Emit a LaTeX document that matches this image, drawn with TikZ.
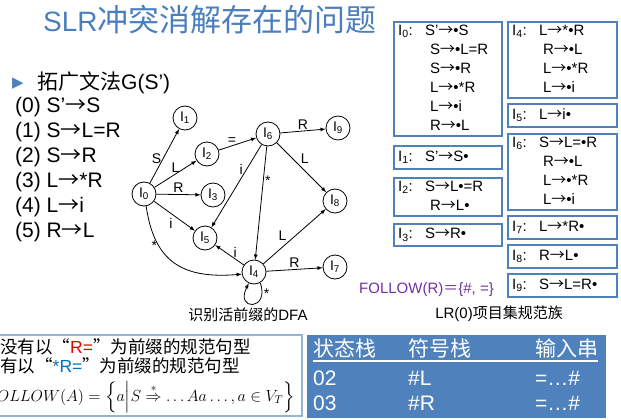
\RequirePackage{fix-cm}
\documentclass[tikz,border=0pt]{standalone}
\usepackage{fontspec}
\usepackage{amsmath}
\setmainfont{Liberation Sans}
\newfontfamily\cjk{Noto Sans CJK SC}
\newfontfamily\symb{DejaVu Sans}
\definecolor{titleblue}{RGB}{74,126,190}
\definecolor{boxblue}{RGB}{79,129,189}
\definecolor{followpurple}{RGB}{112,48,160}
\definecolor{framegray}{RGB}{149,179,215}
\definecolor{redR}{RGB}{230,0,0}
\definecolor{blueR}{RGB}{0,112,192}
\newcommand\zh[1]{{\cjk #1}}
\newcommand\arr{{\cjk →}}
\newcommand\St[1]{I\textsubscript{#1}}
\tikzset{
	dfastate/.style={circle, draw, line width=0.8pt, minimum size=24pt, inner sep=0pt, font=\fontsize{14}{14}\selectfont},
	trans/.style={line width=0.8pt, -latex},
	lab/.style={font=\fontsize{14}{14}\selectfont, inner sep=1.5pt},
	setbox/.style={draw=boxblue, line width=2.2pt, anchor=north west, inner xsep=4pt, inner ysep=0pt, align=left, font=\fontsize{15}{19}\selectfont},
	cell/.style={anchor=base west, text=white, inner sep=0pt, font=\fontsize{21}{25}\selectfont}
}

\begin{document}
\begin{tikzpicture}[x=1pt,y=-1pt]
	\useasboundingbox (0,0) rectangle (621,420);
	
	\node[anchor=base west, inner sep=0pt, text=titleblue] (title) at (43,32) {\fontsize{28}{30}\selectfont SLR\zh{\fontsize{31}{32}\selectfont 冲突消解存在的问题}};
	
	\node[anchor=base west, inner sep=0pt, text=boxblue] (tri) at (12,88) {\symb\fontsize{15}{15}\selectfont ▶};
	\node[anchor=base west, inner sep=0pt] (gram) at (37,89) {\fontsize{21}{25}\selectfont\zh{拓广文法}G(S’)};
	\foreach \k/\r in {0/S’\arr S, 1/S\arr L=R, 2/S\arr R, 3/L\arr *R, 4/L\arr i, 5/R\arr L}
		\node[anchor=base west, inner sep=0pt, font=\fontsize{21}{25}\selectfont] (p\k) at (15,{112+25*\k}) {(\k) \r};
	
	\node[dfastate] (i0) at (144,194) {\St{0}};
	\node[dfastate] (i1) at (185,118) {\St{1}};
	\node[dfastate] (i2) at (207,154) {\St{2}};
	\node[dfastate] (i3) at (213,195) {\St{3}};
	\node[dfastate] (i5) at (205,238) {\St{5}};
	\node[dfastate] (i6) at (268,134) {\St{6}};
	\node[dfastate] (i9) at (338,128) {\St{9}};
	\node[dfastate] (i8) at (335,201) {\St{8}};
	\node[dfastate] (i4) at (254,272) {\St{4}};
	\node[dfastate] (i7) at (335,267) {\St{7}};
	
	\draw[trans] (i0) -- (i1) node[lab, pos=.45, left] {S};
	\draw[trans] (i0) -- (i2) node[lab, midway, above] {L};
	\draw[trans] (i0) -- (i3) node[lab, midway, above] {R};
	\draw[trans] (i0) -- (i5) node[lab, midway, below left] {i};
	\draw[trans] (i0.-80) .. controls +(8,55) and +(-60,5) .. (i4.-170) node[lab, pos=.3, left] {*};
	\draw[trans] (i2) -- (i6) node[lab, pos=.35, above=-1pt] {=};
	\draw[trans] (i6) -- (i9) node[lab, midway, above] {R};
	\draw[trans] (i6) -- (i8) node[lab, pos=.45, above right] {L};
	\draw[trans] (i6) -- (i5) node[lab, pos=.3, left=2pt] {i};
	\draw[trans] (i6) -- (i4) node[lab, pos=.3, right] {*};
	\draw[trans] (i4) -- (i5) node[lab, pos=.3, above] {i};
	\draw[trans] (i4) -- (i8) node[lab, pos=.4, above left] {L};
	\draw[trans] (i4) -- (i7) node[lab, midway, above] {R};
	\draw[trans] (i4.-60) .. controls +(10,28) and +(-14,28) .. (i4.-115) node[lab, pos=.15, right] {*};
	
	\node[inner sep=0pt, font=\fontsize{15}{15}\selectfont] (dfacap) at (248,315) {\zh{识别活前缀的}DFA};
	
	\node[setbox, text width=100pt, minimum height=114pt] (set0) at (393,21) {\begin{tabular}{@{}p{27pt}@{}l@{}}
		\St{0}: & S’\arr•S\\
		& \hspace{5pt}S\arr•L=R\\
		& \hspace{5pt}S\arr•R\\
		& \hspace{5pt}L\arr•*R\\
		& \hspace{5pt}L\arr•i\\
		& \hspace{5pt}R\arr•L
	\end{tabular}};
	\node[setbox, text width=100pt, minimum height=23pt] (set1) at (393,145) {\begin{tabular}{@{}p{27pt}@{}l@{}}
		\St{1}: & S’\arr S•
	\end{tabular}};
	\node[setbox, text width=100pt, minimum height=36pt] (set2) at (393,177) {\begin{tabular}{@{}p{27pt}@{}l@{}}
		\St{2}: & S\arr L•=R\\
		& \hspace{5pt}R\arr L•
	\end{tabular}};
	\node[setbox, text width=100pt, minimum height=22pt] (set3) at (393,223) {\begin{tabular}{@{}p{27pt}@{}l@{}}
		\St{3}: & S\arr R•
	\end{tabular}};
	
	\node[setbox, text width=101pt, minimum height=75pt] (set4) at (507,21) {\begin{tabular}{@{}p{27pt}@{}l@{}}
		\St{4}: & L\arr*•R\\
		& \hspace{4pt}R\arr•L\\
		& \hspace{4pt}L\arr•*R\\
		& \hspace{4pt}L\arr•i
	\end{tabular}};
	\node[setbox, text width=101pt, minimum height=23pt] (set5) at (507,103) {\begin{tabular}{@{}p{27pt}@{}l@{}}
		\St{5}: & L\arr i•
	\end{tabular}};
	\node[setbox, text width=101pt, minimum height=76pt] (set6) at (507,133) {\begin{tabular}{@{}p{27pt}@{}l@{}}
		\St{6}: & S\arr L=•R\\
		& \hspace{4pt}R\arr•L\\
		& \hspace{4pt}L\arr•*R\\
		& \hspace{4pt}L\arr•i
	\end{tabular}};
	\node[setbox, text width=101pt, minimum height=23pt] (set7) at (507,215) {\begin{tabular}{@{}p{27pt}@{}l@{}}
		\St{7}: & L\arr*R•
	\end{tabular}};
	\node[setbox, text width=101pt, minimum height=23pt] (set8) at (507,244) {\begin{tabular}{@{}p{27pt}@{}l@{}}
		\St{8}: & R\arr L•
	\end{tabular}};
	\node[setbox, text width=101pt, minimum height=23pt] (set9) at (507,273) {\begin{tabular}{@{}p{27pt}@{}l@{}}
		\St{9}: & S\arr L=R•
	\end{tabular}};
	
	\node[anchor=west, inner sep=0pt, text=followpurple, font=\fontsize{15}{15}\selectfont] (follow) at (359,290) {FOLLOW(R)\zh{＝}\{\#, =\}};
	\node[inner sep=0pt, font=\fontsize{15}{15}\selectfont] (setcap) at (499,314) {LR(0)\zh{项目集规范族}};
	
	\draw[framegray, line width=1.2pt] (-5,335) rectangle (302,416);
	\node[anchor=base west, inner sep=0pt, font=\fontsize{17.5}{20}\selectfont] (cond1) at (0,353) {\zh{没有以“}\textcolor{redR}{R=}\zh{”为前缀的规范句型}};
	\node[anchor=base west, inner sep=0pt, font=\fontsize{17.5}{20}\selectfont] (cond2) at (0,372) {\zh{有以“}\textcolor{blueR}{*R=}\zh{”为前缀的规范句型}};
	\node[anchor=east, inner sep=0pt, font=\fontsize{16}{19}\selectfont] (followdef) at (295,397) {$FOLLOW(A)=\left\{a\middle|S\overset{*}{\Rightarrow}\dots Aa\dots,a\in V_T\right\}$};
	
	\node[fill=boxblue, anchor=north west, inner sep=0pt, minimum width=299pt, minimum height=83pt] (tbl) at (307,335) {};
	\node[cell] (h1) at (313,356) {\zh{状态栈}};
	\node[cell] (h2) at (408,356) {\zh{符号栈}};
	\node[cell] (h3) at (535,356) {\zh{输入串}};
	\draw[white, line width=1.8pt] (313,361) -- (598,361);
	\node[cell] (a1) at (313,385) {02};
	\node[cell] (a2) at (408,385) {\#L};
	\node[cell] (a3) at (535,385) {=…\#};
	\node[cell] (b1) at (313,410) {03};
	\node[cell] (b2) at (408,410) {\#R};
	\node[cell] (b3) at (535,410) {=…\#};
\end{tikzpicture}
\end{document}
